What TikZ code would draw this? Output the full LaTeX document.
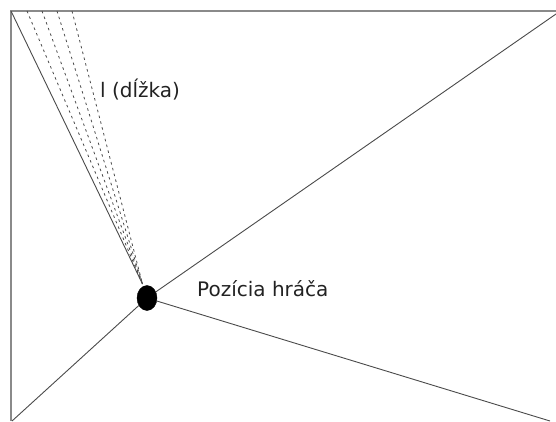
\documentclass[tikz,border=0pt]{standalone}
\usepackage{fontspec}
\setmainfont{DejaVu Sans}
\usetikzlibrary{shapes.geometric}
\definecolor{framegray}{HTML}{8A8A8A}
\definecolor{linegray}{HTML}{4A4A4A}
\definecolor{textgray}{HTML}{222222}
\tikzset{
  framel/.style={draw=framegray, line width=1.1pt},
  ray/.style={draw=linegray, line width=0.9pt},
  dashray/.style={draw=linegray, line width=0.8pt, dash pattern=on 2.5pt off 3.5pt},
  lbl/.style={text=textgray, font=\fontsize{20}{23}\selectfont, inner sep=0pt, anchor=base west},
  player/.style={ellipse, fill=black, draw=black, minimum width=20pt, minimum height=25pt, inner sep=0pt}
}
\begin{document}
\begin{tikzpicture}[x=1pt,y=-1pt]
\useasboundingbox (0,0) rectangle (556,421);
\coordinate (tl) at (11,11);
\coordinate (tr) at (556,11);
\coordinate (bl) at (11,421);
\coordinate (d1) at (27,11);
\coordinate (d2) at (42,11);
\coordinate (d3) at (57,11);
\coordinate (d4) at (72,11);
\coordinate (rt) at (556,14);
\coordinate (rb) at (550,421);
\coordinate (lb) at (12,421);
\node[player] (p) at (147,298) {};
\coordinate (c) at (142.5,284);
\draw[framel] (bl) -- (tl) -- (tr);
\draw[ray] (tl) -- (c);
\draw[dashray] (d1) -- (c);
\draw[dashray] (d2) -- (c);
\draw[dashray] (d3) -- (c);
\draw[dashray] (d4) -- (c);
\draw[ray] (p) -- (rt);
\draw[ray] (p) -- (rb);
\draw[ray] (p) -- (lb);
\node[lbl] (len) at (100,97) {l (dĺžka)};
\node[lbl] (pos) at (197,296) {Pozícia hráča};
\end{tikzpicture}
\end{document}
